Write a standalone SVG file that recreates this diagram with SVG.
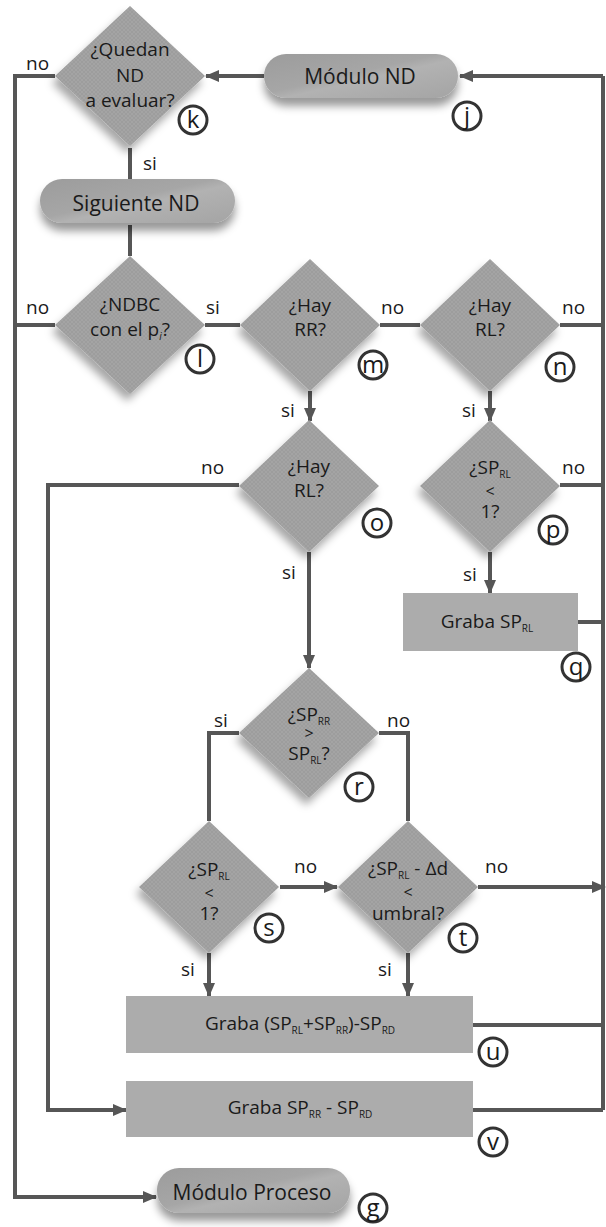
<svg xmlns="http://www.w3.org/2000/svg" width="606" height="1227" viewBox="0 0 606 1227">
<defs>
<style>
text{font-family:"Open Sans","Noto Sans",sans-serif;fill:#1a1a1a}
.dt{font-size:19px;text-anchor:middle}
.op{font-size:16px;text-anchor:middle}
.pt{font-size:21px;text-anchor:middle}
.rt{font-size:19px;text-anchor:middle}
.lb{font-size:19px}
.sub{font-size:10px}
.ct{font-size:24px;text-anchor:middle}
.dia{fill:url(#hatch);filter:url(#dsh)}
.box{fill:#acacac}
.pill{fill:url(#pg);filter:url(#psh)}
.cir{fill:#fff;stroke:#333;stroke-width:3}
.ln{fill:none;stroke:#565656;stroke-width:4}
.ar{marker-end:url(#ah)}
</style>
<pattern id="hatch" width="4" height="4" patternUnits="userSpaceOnUse">
<rect width="4" height="4" fill="#a4a4a4"/>
<path d="M0 0L4 4M4 0L0 4" stroke="#9a9a9a" stroke-width="0.7"/>
</pattern>
<linearGradient id="pg" x1="0" y1="0" x2="1" y2="1">
<stop offset="0" stop-color="#9c9c9c"/>
<stop offset="0.45" stop-color="#a6a6a6"/>
<stop offset="0.55" stop-color="#b2b2b2"/>
<stop offset="1" stop-color="#a4a4a4"/>
</linearGradient>
<filter id="dsh" x="-30%" y="-30%" width="160%" height="170%">
<feDropShadow dx="-3" dy="7" stdDeviation="4" flood-color="#000" flood-opacity="0.35"/>
</filter>
<filter id="psh" x="-20%" y="-30%" width="140%" height="190%">
<feDropShadow dx="0" dy="8" stdDeviation="4" flood-color="#000" flood-opacity="0.4"/>
</filter>
<marker id="ah" markerWidth="14" markerHeight="12" refX="13" refY="6" orient="auto" markerUnits="userSpaceOnUse">
<path d="M0 0L14 6L0 12Z" fill="#565656"/>
</marker>
</defs>
<rect width="606" height="1227" fill="#fff"/>

<g id="connectors">
<path class="ln" d="M603 76V1110"/>
<path class="ln ar" d="M603 76H460"/>
<path class="ln ar" d="M264 76H206"/>
<path class="ln ar" d="M55 76H15V1197H156"/>
<path class="ln" d="M130 148V179"/>
<path class="ln" d="M130 225V256"/>
<path class="ln" d="M55 325H15"/>
<path class="ln" d="M205 325H240"/>
<path class="ln" d="M380 325H420"/>
<path class="ln" d="M560 325H603"/>
<path class="ln ar" d="M310 391V421"/>
<path class="ln ar" d="M490 391V421"/>
<path class="ln ar" d="M239 485H48V1110H126"/>
<path class="ln" d="M560 485H603"/>
<path class="ln ar" d="M309 552V668"/>
<path class="ln ar" d="M490 552V593"/>
<path class="ln" d="M578 622H603"/>
<path class="ln" d="M239 733H209V821"/>
<path class="ln" d="M379 733H408V821"/>
<path class="ln ar" d="M280 887H337"/>
<path class="ln ar" d="M478 887H605"/>
<path class="ln ar" d="M209 953V996"/>
<path class="ln ar" d="M408 953V996"/>
<path class="ln" d="M473 1025H603"/>
<path class="ln" d="M473 1110H603"/>
</g>

<g id="labels">
<text class="lb" x="26" y="70">no</text>
<text class="lb" x="143" y="170">si</text>
<text class="lb" x="26" y="314">no</text>
<text class="lb" x="206" y="314">si</text>
<text class="lb" x="381" y="314">no</text>
<text class="lb" x="562" y="314">no</text>
<text class="lb" x="281" y="417">si</text>
<text class="lb" x="462" y="417">si</text>
<text class="lb" x="201" y="474">no</text>
<text class="lb" x="562" y="474">no</text>
<text class="lb" x="282" y="579">si</text>
<text class="lb" x="463" y="581">si</text>
<text class="lb" x="214" y="727">si</text>
<text class="lb" x="387" y="727">no</text>
<text class="lb" x="294" y="873">no</text>
<text class="lb" x="485" y="873">no</text>
<text class="lb" x="181" y="976">si</text>
<text class="lb" x="378" y="976">si</text>
</g>

<g id="node-k">
<path class="dia" d="M130 6L205 76L130 146L55 76Z"/>
<text class="dt" x="130" y="56">¿Quedan</text>
<text class="dt" x="130" y="82">ND</text>
<text class="dt" x="130" y="107">a evaluar?</text>
<circle class="cir" cx="193" cy="120" r="14"/>
<text class="ct" x="193" y="128">k</text>
</g>

<g id="node-j">
<rect class="pill" x="264" y="54" width="194" height="44" rx="22"/>
<text class="pt" x="360" y="84">Módulo ND</text>
<circle class="cir" cx="467" cy="116" r="14"/>
<text class="ct" x="467" y="124">j</text>
</g>

<g id="node-siguiente">
<rect class="pill" x="40" y="179" width="195" height="44" rx="22"/>
<text class="pt" x="136" y="211">Siguiente ND</text>
</g>

<g id="node-l">
<path class="dia" d="M130 256L205 325L130 394L55 325Z"/>
<text class="dt" x="130" y="311">¿NDBC</text>
<text class="dt" x="130" y="336">con el p<tspan class="sub" dy="4" font-style="italic">i</tspan><tspan dy="-4">?</tspan></text>
<circle class="cir" cx="200" cy="359" r="14"/>
<text class="ct" x="200" y="367">l</text>
</g>

<g id="node-m">
<path class="dia" d="M310 259L380 325L310 391L240 325Z"/>
<text class="dt" x="310" y="312">¿Hay</text>
<text class="dt" x="310" y="336">RR?</text>
<circle class="cir" cx="373" cy="365" r="14"/>
<text class="ct" x="373" y="373">m</text>
</g>

<g id="node-n">
<path class="dia" d="M490 259L560 325L490 391L420 325Z"/>
<text class="dt" x="490" y="312">¿Hay</text>
<text class="dt" x="490" y="336">RL?</text>
<circle class="cir" cx="560" cy="367" r="14"/>
<text class="ct" x="560" y="375">n</text>
</g>

<g id="node-o">
<path class="dia" d="M309 420L379 486L309 552L239 486Z"/>
<text class="dt" x="309" y="473">¿Hay</text>
<text class="dt" x="309" y="497">RL?</text>
<circle class="cir" cx="377" cy="523" r="14"/>
<text class="ct" x="377" y="531">o</text>
</g>

<g id="node-p">
<path class="dia" d="M490 420L560 486L490 552L420 486Z"/>
<text class="dt" x="490" y="474">¿SP<tspan class="sub" dy="4">RL</tspan></text>
<text class="op" x="490" y="497">&lt;</text>
<text class="dt" x="490" y="518">1?</text>
<circle class="cir" cx="553" cy="530" r="14"/>
<text class="ct" x="553" y="538">p</text>
</g>

<g id="node-q">
<rect class="box" x="403" y="593" width="175" height="58"/>
<text class="rt" x="487" y="628">Graba SP<tspan class="sub" dy="4">RL</tspan></text>
<circle class="cir" cx="576" cy="667" r="14"/>
<text class="ct" x="576" y="675">q</text>
</g>

<g id="node-r">
<path class="dia" d="M309 668L379 733L309 798L239 733Z"/>
<text class="dt" x="309" y="721">¿SP<tspan class="sub" dy="4">RR</tspan></text>
<text class="op" x="309" y="739">&gt;</text>
<text class="dt" x="309" y="760">SP<tspan class="sub" dy="4">RL</tspan><tspan dy="-4">?</tspan></text>
<circle class="cir" cx="359" cy="787" r="14"/>
<text class="ct" x="359" y="795">r</text>
</g>

<g id="node-s">
<path class="dia" d="M209 821L279 887L209 953L139 887Z"/>
<text class="dt" x="209" y="876">¿SP<tspan class="sub" dy="4">RL</tspan></text>
<text class="op" x="209" y="899">&lt;</text>
<text class="dt" x="209" y="920">1?</text>
<circle class="cir" cx="269" cy="928" r="14"/>
<text class="ct" x="269" y="936">s</text>
</g>

<g id="node-t">
<path class="dia" d="M408 821L478 887L408 953L338 887Z"/>
<text class="dt" x="408" y="875">¿SP<tspan class="sub" dy="4">RL</tspan><tspan dy="-4"> - Δd</tspan></text>
<text class="op" x="408" y="898">&lt;</text>
<text class="dt" x="408" y="920">umbral?</text>
<circle class="cir" cx="463" cy="938" r="14"/>
<text class="ct" x="463" y="946">t</text>
</g>

<g id="node-u">
<rect class="box" x="126" y="996" width="347" height="57"/>
<text class="rt" x="300" y="1030">Graba (SP<tspan class="sub" dy="4">RL</tspan><tspan dy="-4">+SP</tspan><tspan class="sub" dy="4">RR</tspan><tspan dy="-4">)-SP</tspan><tspan class="sub" dy="4">RD</tspan></text>
<circle class="cir" cx="493" cy="1052" r="14"/>
<text class="ct" x="493" y="1060">u</text>
</g>

<g id="node-v">
<rect class="box" x="126" y="1081" width="347" height="56"/>
<text class="rt" x="300" y="1114">Graba SP<tspan class="sub" dy="4">RR</tspan><tspan dy="-4"> - SP</tspan><tspan class="sub" dy="4">RD</tspan></text>
<circle class="cir" cx="493" cy="1142" r="14"/>
<text class="ct" x="493" y="1150">v</text>
</g>

<g id="node-g">
<rect class="pill" x="157" y="1168" width="193" height="45" rx="22"/>
<text class="pt" x="252" y="1200">Módulo Proceso</text>
<circle class="cir" cx="373" cy="1208" r="14"/>
<text class="ct" x="373" y="1216">g</text>
</g>
</svg>
